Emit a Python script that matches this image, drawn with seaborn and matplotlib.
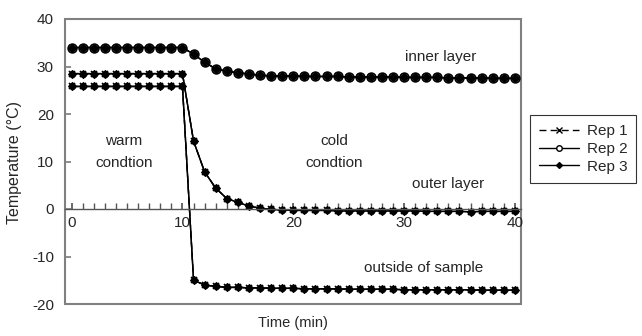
import numpy as np
import pandas as pd
import matplotlib
matplotlib.use("Agg")
import matplotlib.pyplot as plt
import seaborn as sns
from matplotlib.lines import Line2D
from matplotlib.patches import Rectangle

sns.set_theme(style="white")
plt.rcParams['font.family'] = ['Liberation Sans', 'DejaVu Sans']
plt.rcParams['axes.unicode_minus'] = False

time_min = list(range(0, 41))

inner_layer = [34.0, 34.0, 34.0, 34.0, 34.0, 34.0, 34.0, 34.0, 34.0, 34.0, 34.0,
               32.6, 30.9, 29.5, 29.0, 28.7, 28.4, 28.2, 28.0, 28.0, 28.0,
               27.9, 27.9, 27.9, 27.9, 27.8, 27.8, 27.8, 27.8, 27.8, 27.7,
               27.7, 27.7, 27.7, 27.6, 27.6, 27.6, 27.6, 27.5, 27.5, 27.5]
outer_layer = [28.5, 28.5, 28.5, 28.5, 28.5, 28.5, 28.5, 28.5, 28.5, 28.5, 28.5,
               14.3, 7.8, 4.4, 2.2, 1.4, 0.6, 0.2, -0.1, -0.2, -0.3,
               -0.3, -0.3, -0.3, -0.4, -0.4, -0.4, -0.4, -0.4, -0.4, -0.4,
               -0.4, -0.5, -0.5, -0.5, -0.5, -0.6, -0.5, -0.5, -0.5, -0.5]
outside_sample = [25.8, 25.8, 25.8, 25.8, 25.8, 25.8, 25.8, 25.8, 25.8, 25.8, 25.8,
                  -15.0, -16.0, -16.3, -16.5, -16.5, -16.6, -16.6, -16.7, -16.7, -16.7,
                  -16.8, -16.8, -16.8, -16.8, -16.9, -16.9, -16.9, -16.9, -16.9, -17.0,
                  -17.0, -17.0, -17.0, -17.0, -17.0, -17.0, -17.1, -17.1, -17.1, -17.1]

reps = ["Rep 1", "Rep 2", "Rep 3"]
layers = {"inner layer": inner_layer, "outer layer": outer_layer,
          "outside of sample": outside_sample}

rows = []
for rep in reps:
    for lname, vals in layers.items():
        for t, v in zip(time_min, vals):
            rows.append({"t": t, "temp": v, "rep": rep, "layer": lname})
df = pd.DataFrame(rows)

fig = plt.figure(figsize=(6.42, 3.36), dpi=100)
ax = fig.add_axes([65/642, 1-304/336, (521-65)/642, (304-19)/336])

grey = "#808080"
FS = 11
marker_kw = {
    "Rep 1": dict(marker="x", ms=5, mew=1.2, mfc="black", mec="black", ls=(0, (5, 3))),
    "Rep 2": dict(marker="o", ms=6.5, mew=1.0, mfc="#444444", mec="black", ls="-"),
    "Rep 3": dict(marker="D", ms=4, mew=0.8, mfc="black", mec="black", ls="-"),
}
for rep in reps:
    for lname in layers:
        sub = df[(df.rep == rep) & (df.layer == lname)]
        kw = marker_kw[rep]
        if rep == "Rep 2" and lname != "inner layer":
            ms, mfc = 4, "black"
        else:
            ms, mfc = kw["ms"], kw["mfc"]
        sns.lineplot(data=sub, x="t", y="temp", ax=ax, color="black", lw=1.0,
                     estimator=None, legend=False, marker=kw["marker"], markersize=ms,
                     markeredgewidth=kw["mew"], markerfacecolor=mfc,
                     markeredgecolor=kw["mec"], dashes=False)
        ax.lines[-1].set_linestyle(kw["ls"])

ax.set_xlim(-0.6, 40.55)
ax.set_ylim(-20, 40)

for s in ax.spines.values():
    s.set_visible(False)
ax.add_patch(Rectangle((0, 0), 1, 1, transform=ax.transAxes, fill=False,
                       edgecolor=grey, lw=1.5, clip_on=False, zorder=0))
ax.spines['bottom'].set_visible(True)
ax.spines['bottom'].set_position(('data', 0))
ax.spines['bottom'].set_color("#555555")
ax.spines['bottom'].set_linewidth(1.0)
ax.spines['bottom'].set_bounds(-0.6, 40.55)

ax.set_xticks([0, 10, 20, 30, 40])
ax.set_xticks(range(0, 41), minor=True)
ax.set_yticks([-20, -10, 0, 10, 20, 30, 40])
ax.tick_params(axis='x', which='both', direction='in', color="#555555", labelsize=FS,
               pad=5, bottom=True, length=4)
ax.tick_params(axis='y', direction='in', length=4, color=grey, labelsize=FS, left=True, pad=8)
ax.set_xlabel("")
ax.set_ylabel("")
fig.text(293/642, 1-323/336, "Time (min)", ha="center", va="center", fontsize=10.5)
fig.text(15/642, 1-162/336, "Temperature (°C)", ha="center", va="center",
         rotation=90, fontsize=11.5)

ax.text(33.3, 32.1, "inner layer", ha="center", va="center", fontsize=FS)
ax.text(4.7, 12.0, "warm\ncondtion", ha="center", va="center", fontsize=FS, linespacing=1.75)
ax.text(23.7, 12.0, "cold\ncondtion", ha="center", va="center", fontsize=FS, linespacing=1.75)
ax.text(34.0, 5.3, "outer layer", ha="center", va="center", fontsize=FS)
ax.text(31.8, -12.5, "outside of sample", ha="center", va="center", fontsize=FS)

handles = []
for rep in reps:
    kw = marker_kw[rep]
    mfc = "white" if rep == "Rep 2" else kw["mfc"]
    handles.append(Line2D([], [], color="black", lw=1.0, linestyle=kw["ls"],
                          marker=kw["marker"], markersize=4 if rep != "Rep 3" else 3,
                          markerfacecolor=mfc, markeredgecolor="black", label=rep))
leg = fig.legend(handles=handles, loc="upper left", bbox_to_anchor=(530/642, 1-115/336),
                 frameon=True, fancybox=False, edgecolor="black", fontsize=FS,
                 handlelength=2.6, labelspacing=0.25, borderpad=0.6, handletextpad=0.5,
                 borderaxespad=0)
leg.get_frame().set_linewidth(0.8)

fig.savefig("out.png", dpi=100)
